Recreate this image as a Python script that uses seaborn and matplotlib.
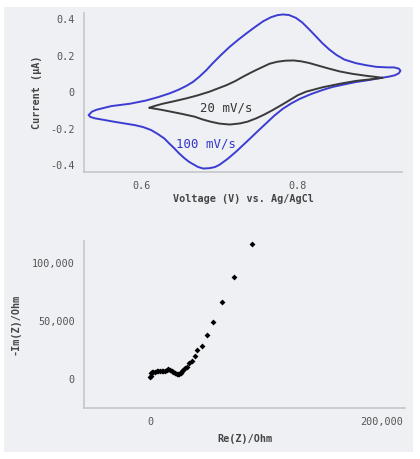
import matplotlib
matplotlib.use("Agg")
import matplotlib.pyplot as plt
import matplotlib.patches as mpatches
from matplotlib.ticker import FuncFormatter, FixedLocator
import seaborn as sns
import pandas as pd

# ---- Cyclic voltammetry data (V vs Ag/AgCl, current in uA) ----
cv100_voltage = [0.532, 0.536, 0.542, 0.561, 0.585, 0.605, 0.621, 0.636, 0.647, 0.657,
                 0.666, 0.674, 0.683, 0.691, 0.702, 0.713, 0.724, 0.734, 0.745, 0.756,
                 0.766, 0.774, 0.781, 0.789, 0.798, 0.806, 0.815, 0.824, 0.832, 0.841,
                 0.850, 0.860, 0.875, 0.888, 0.901, 0.915, 0.924, 0.930, 0.932,
                 0.930, 0.925, 0.918, 0.905, 0.892, 0.875, 0.858, 0.845, 0.832, 0.818,
                 0.803, 0.792, 0.781, 0.770, 0.760, 0.749, 0.738, 0.729, 0.721, 0.710,
                 0.700, 0.694, 0.687, 0.679, 0.672, 0.668, 0.661, 0.655, 0.648, 0.642,
                 0.635, 0.629, 0.620, 0.612, 0.602, 0.591, 0.578, 0.565, 0.552, 0.540,
                 0.534, 0.532]
cv100_current = [-0.126, -0.108, -0.097, -0.077, -0.064, -0.047, -0.028, -0.007, 0.012, 0.033,
                 0.056, 0.084, 0.120, 0.157, 0.204, 0.248, 0.287, 0.320, 0.355, 0.388,
                 0.410, 0.421, 0.425, 0.422, 0.406, 0.381, 0.343, 0.303, 0.267, 0.232,
                 0.203, 0.178, 0.158, 0.147, 0.138, 0.135, 0.135, 0.128, 0.117,
                 0.103, 0.092, 0.085, 0.076, 0.066, 0.055, 0.040, 0.028, 0.011, -0.010,
                 -0.037, -0.062, -0.092, -0.130, -0.170, -0.214, -0.259, -0.295, -0.327, -0.367,
                 -0.398, -0.411, -0.417, -0.419, -0.410, -0.400, -0.383, -0.363, -0.336, -0.309,
                 -0.280, -0.254, -0.228, -0.208, -0.192, -0.181, -0.172, -0.163, -0.153, -0.144,
                 -0.136, -0.126]

cv20_voltage = [0.610, 0.616, 0.627, 0.642, 0.657, 0.672, 0.687, 0.698, 0.709, 0.720,
                0.730, 0.739, 0.747, 0.756, 0.764, 0.774, 0.785, 0.795, 0.805, 0.815,
                0.824, 0.838, 0.854, 0.870, 0.888, 0.900, 0.909,
                0.900, 0.892, 0.875, 0.855, 0.832, 0.811, 0.800, 0.790, 0.779, 0.768,
                0.757, 0.747, 0.736, 0.726, 0.713, 0.700, 0.689, 0.678, 0.668, 0.652,
                0.638, 0.625, 0.615, 0.610]
cv20_current = [-0.086, -0.077, -0.064, -0.050, -0.035, -0.018, 0.002, 0.020, 0.038, 0.060,
                0.084, 0.104, 0.121, 0.139, 0.155, 0.166, 0.172, 0.173, 0.168, 0.159,
                0.148, 0.131, 0.113, 0.100, 0.089, 0.083, 0.078,
                0.073, 0.069, 0.061, 0.046, 0.026, 0.002, -0.018, -0.044, -0.072, -0.099,
                -0.124, -0.144, -0.162, -0.172, -0.178, -0.173, -0.163, -0.150, -0.135, -0.120,
                -0.108, -0.097, -0.090, -0.086]

# ---- Nyquist data (Ohm) ----
re_z = [300, 600, 1200, 2000, 3000, 4300, 5800, 7200, 8700, 10100, 11500, 12900, 14400,
        15800, 17300, 18700, 20100, 21600, 23000, 24400, 25400, 26400, 27500, 28700, 30200,
        31600, 33900, 35900, 38500, 40800, 44500, 48900, 54300, 62400, 72700, 88200]
neg_im_z = [1200, 2500, 4600, 5500, 6000, 6000, 6300, 6900, 6900, 6900, 6800, 6900, 7400,
            8100, 7600, 6600, 5800, 4600, 4000, 3700, 3900, 5200, 6300, 7500, 8900,
            10300, 13200, 15500, 19500, 24700, 28200, 37900, 48900, 66100, 87600, 116400]

cv_yticks = [-0.4, -0.2, 0, 0.2, 0.4]
cv_xticks = [0.6, 0.8]
eis_xticks = [0, 200000]
eis_yticks = [0, 50000, 100000]

sns.set_theme(style="white")
plt.rcParams['font.family'] = ['DejaVu Sans Mono', 'DejaVu Sans']

W, H = 420, 459
fig = plt.figure(figsize=(W / 100, H / 100), dpi=100, facecolor="white")
panel = "#eef0f3"
fig.patches.append(mpatches.Rectangle((4 / W, 1 - 452 / H), 409 / W, 445 / H,
                                      transform=fig.transFigure, facecolor=panel,
                                      edgecolor="none", zorder=-10))

spine_c = "#c4c6c9"
tick_c = "#555555"
label_c = "#444444"


def style_axes(ax):
    ax.set_facecolor("none")
    ax.patch.set_alpha(0)
    for s in ["top", "right"]:
        ax.spines[s].set_visible(False)
    for s in ["left", "bottom"]:
        ax.spines[s].set_color(spine_c)
        ax.spines[s].set_linewidth(1.2)
    ax.tick_params(axis="both", which="major", length=3, width=0.8, color=spine_c,
                   labelsize=7.3, labelcolor=tick_c, pad=3.5)
    ax.grid(False)


# ---- Top: CV ----
ax1 = fig.add_axes([84 / W, 1 - 172 / H, 318 / W, 159 / H])
df100 = pd.DataFrame({"V": cv100_voltage, "I": cv100_current})
df20 = pd.DataFrame({"V": cv20_voltage, "I": cv20_current})
sns.lineplot(data=df100, x="V", y="I", sort=False, estimator=None, ax=ax1,
             color="#3c3cd2", linewidth=1.4)
sns.lineplot(data=df20, x="V", y="I", sort=False, estimator=None, ax=ax1,
             color="#3a3a3a", linewidth=1.4)
ax1.set_xlim(0.526, 0.934)
ax1.set_ylim(-0.438, 0.433)
style_axes(ax1)
ax1.xaxis.set_major_locator(FixedLocator(cv_xticks))
ax1.yaxis.set_major_locator(FixedLocator(cv_yticks))
ax1.xaxis.set_major_formatter(FuncFormatter(lambda v, p: f"{v:.1f}"))
ax1.yaxis.set_major_formatter(FuncFormatter(lambda v, p: "0" if abs(v) < 1e-9 else f"{v:.1f}"))
ax1.set_xlabel("Voltage (V) vs. Ag/AgCl", fontsize=7.3, fontweight="bold", color=label_c, labelpad=2)
ax1.set_ylabel("Current (µA)", fontsize=7.3, fontweight="bold", color=label_c, labelpad=6)
ax1.text(0.6744, -0.088, "20 mV/s", fontsize=8.9, color="#333333", ha="left", va="center")
ax1.text(0.6436, -0.285, "100 mV/s", fontsize=8.9, color="#3333cc", ha="left", va="center")

# ---- Bottom: Nyquist ----
ax2 = fig.add_axes([84 / W, 1 - 408 / H, 321 / W, 167 / H])
dfe = pd.DataFrame({"re": re_z, "im": neg_im_z})
sns.scatterplot(data=dfe, x="re", y="im", ax=ax2, color="black", marker="D", s=9,
                linewidth=0)
ax2.set_xlim(-56900, 219800)
ax2.set_ylim(-25300, 118700)
style_axes(ax2)
ax2.xaxis.set_major_locator(FixedLocator(eis_xticks))
ax2.yaxis.set_major_locator(FixedLocator(eis_yticks))
fmt = FuncFormatter(lambda v, p: f"{int(round(v)):,}")
ax2.xaxis.set_major_formatter(fmt)
ax2.yaxis.set_major_formatter(fmt)
ax2.set_xlabel("Re(Z)/Ohm", fontsize=7.3, fontweight="bold", color=label_c, labelpad=5)
ax2.set_ylabel("-Im(Z)/Ohm", fontsize=7.3, fontweight="bold", color=label_c, labelpad=8)

fig.savefig("out.png", dpi=100, facecolor="white")
